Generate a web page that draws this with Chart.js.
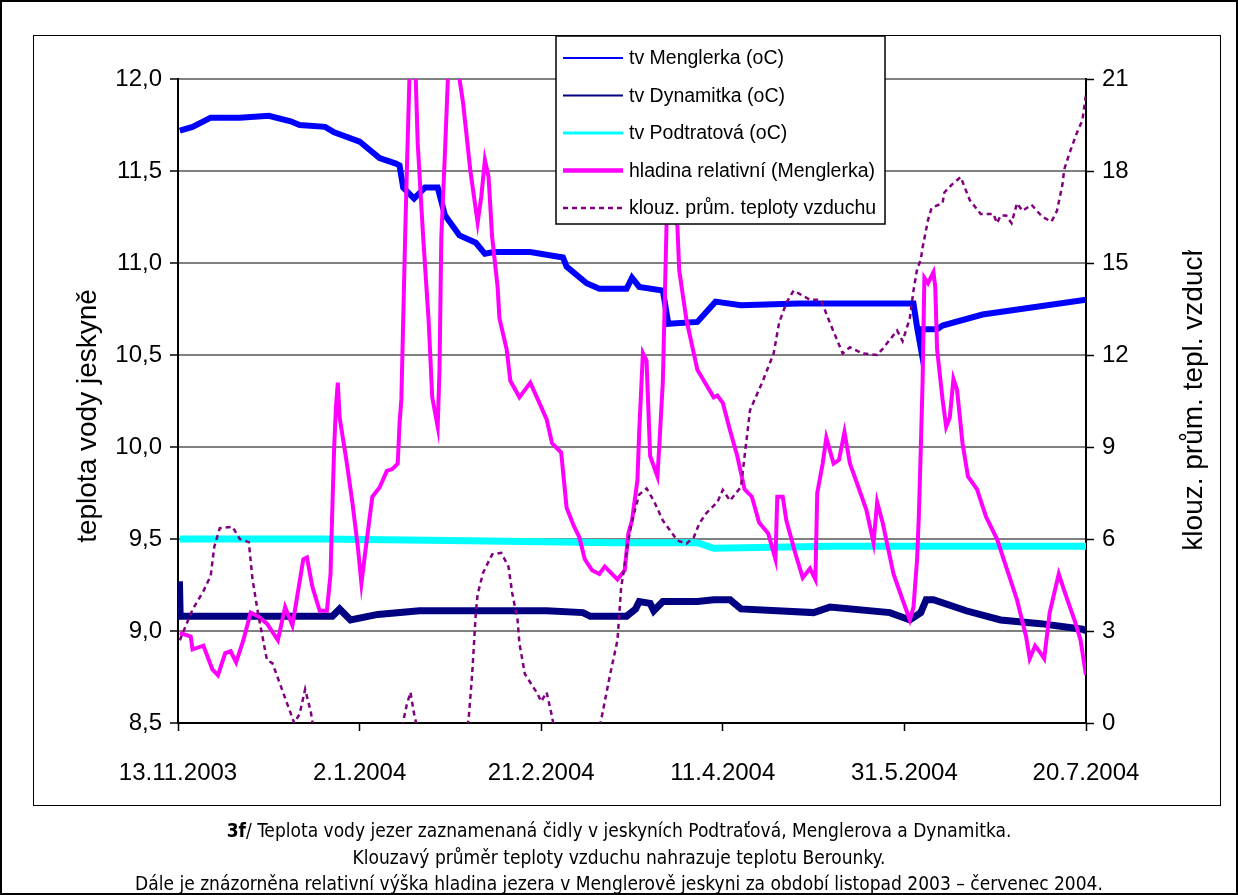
<!DOCTYPE html>
<html>
<head>
<meta charset="utf-8">
<script src="https://cdn.jsdelivr.net/npm/chart.js@4.4.1/dist/chart.umd.min.js"></script>
<style>
  html, body { margin: 0; padding: 0; background: #fff; }
  #wrap { position: relative; width: 1238px; height: 895px; overflow: hidden; }
  #outer { position: absolute; left: 0; top: 0; width: 1234px; height: 891px; border: 2px solid #000; }
  #frame { position: absolute; left: 33px; top: 35px; width: 1186px; height: 769px; border: 1.5px solid #000; }
  #myChart { position: absolute; left: 0; top: 0; }
  #caption {
    position: absolute; left: 0; top: 817px; width: 1238px; text-align: center;
    font-family: "DejaVu Sans Condensed", "DejaVu Sans", sans-serif; font-size: 19px; line-height: 26.5px; color: #000;
  }
</style>
</head>
<body>
<div id="wrap">
  <div id="outer"></div>
  <div id="frame"></div>
  <canvas id="myChart" width="1238" height="895"></canvas>
  <div id="caption">
    <b>3f</b>/ Teplota vody jezer zaznamenaná čidly v jeskyních Podtraťová, Menglerova a Dynamitka.<br>
    Klouzavý průměr teploty vzduchu nahrazuje teplotu Berounky.<br>
    Dále je znázorněna relativní výška hladina jezera v Menglerově jeskyni za období listopad 2003 – červenec 2004.
  </div>
</div>
<script>
// x = days since 13.11.2003
const xTickLabels = ["13.11.2003", "2.1.2004", "21.2.2004", "11.4.2004", "31.5.2004", "20.7.2004"];
const leftTitle = "teplota vody jeskyně";
const rightTitle = "klouz. prům. tepl. vzduchu";
const seriesLabels = ["tv Menglerka (oC)", "tv Dynamitka (oC)", "tv Podtratová (oC)", "hladina relativní (Menglerka)", "klouz. prům. teploty vzduchu"];

const menglerkaDays = [0.5, 4, 9, 17, 25, 31, 33.5, 40.5, 43, 50, 55.5, 60, 61, 62, 64, 65, 68, 71.5, 73.5, 77.5, 82, 84.5, 87, 97, 106, 107, 112.5, 116, 123.5, 125, 127, 133.5, 135, 143, 148, 155, 171, 188, 202.5, 203.5, 204.5, 205, 209, 210.5, 221.5, 235.5, 250];
const menglerkaTemp = [11.72, 11.74, 11.79, 11.79, 11.80, 11.77, 11.75, 11.74, 11.71, 11.66, 11.57, 11.54, 11.53, 11.41, 11.37, 11.35, 11.41, 11.41, 11.26, 11.15, 11.11, 11.05, 11.06, 11.06, 11.03, 10.98, 10.89, 10.86, 10.86, 10.92, 10.87, 10.85, 10.67, 10.68, 10.79, 10.77, 10.78, 10.78, 10.78, 10.65, 10.54, 10.64, 10.64, 10.66, 10.72, 10.76, 10.80];

const dynamitkaDays = [0.2, 0.4, 0.6, 42.5, 44.5, 47.5, 55, 66.5, 101.5, 111.5, 113.5, 123.5, 126, 127, 130, 131, 133.5, 143, 147.5, 152, 155, 175, 179.5, 196, 201.5, 204.5, 206, 208, 217, 226.5, 237.5, 249, 250];
const dynamitkaTemp = [9.08, 9.27, 9.08, 9.08, 9.12, 9.06, 9.09, 9.11, 9.11, 9.10, 9.08, 9.08, 9.12, 9.16, 9.15, 9.11, 9.16, 9.16, 9.17, 9.17, 9.12, 9.10, 9.13, 9.10, 9.06, 9.10, 9.17, 9.17, 9.11, 9.06, 9.04, 9.01, 9.00];

const podtratovaDays = [0.5, 40, 80, 120, 143, 147.5, 180, 220, 250];
const podtratovaTemp = [9.50, 9.50, 9.49, 9.48, 9.48, 9.45, 9.46, 9.46, 9.46];

const hladinaDays = [0.5, 3.5, 4, 7, 9.5, 11, 13, 14.5, 16, 18, 20, 22, 24.5, 27.5, 29.5, 31.5, 34.5, 35.5, 37, 39, 41, 42, 42.5, 43, 43.5, 44, 44.5, 46.5, 48, 49.5, 50.5, 51.5, 53.5, 55.5, 57.5, 59, 60.5, 61, 61.5, 62.5, 63, 64, 65, 66, 67.5, 69, 70, 71.5, 72, 72.5, 73.5, 74.5, 76, 77.5, 78.5, 80.5, 82, 82.5, 83.5, 84.5, 85.5, 86.5, 88, 88.5, 90.5, 91.5, 94, 97, 99.5, 101.5, 103, 105.5, 107, 109, 110.5, 112, 114, 116, 117.5, 121, 123, 124, 125, 126.5, 127, 128, 129, 130, 132, 132.5, 133.5, 134.5, 136, 137.5, 138, 140, 143, 147.5, 148.5, 150, 152, 154, 156, 158, 160, 162.5, 164.5, 165, 166.5, 167.5, 170, 172, 174, 175.5, 176, 177.5, 178.5, 180.5, 182, 183.5, 185, 187, 189.5, 191.5, 192.5, 194, 197, 199.5, 201.5, 202.5, 203.5, 204, 204.5, 205, 205.5, 206.5, 208, 208.5, 209, 210.5, 211.5, 212.5, 213.5, 214.5, 216, 217.5, 220, 222.5, 225.5, 228, 231, 233.5, 234.5, 236, 237.5, 238.5, 240, 242.5, 244, 247, 248.5, 250];
const hladinaLevel = [8.99, 8.97, 8.90, 8.92, 8.79, 8.76, 8.88, 8.89, 8.83, 8.95, 9.10, 9.08, 9.04, 8.95, 9.13, 9.03, 9.39, 9.40, 9.24, 9.11, 9.11, 9.31, 9.67, 10.00, 10.22, 10.35, 10.16, 9.91, 9.70, 9.46, 9.26, 9.42, 9.73, 9.78, 9.87, 9.88, 9.91, 10.13, 10.26, 11.11, 11.50, 12.20, 12.30, 11.65, 11.14, 10.69, 10.27, 10.11, 10.42, 11.14, 11.60, 12.10, 12.30, 12.00, 11.87, 11.50, 11.29, 11.22, 11.36, 11.56, 11.47, 11.14, 10.87, 10.70, 10.53, 10.36, 10.27, 10.35, 10.24, 10.15, 10.02, 9.97, 9.67, 9.57, 9.51, 9.39, 9.33, 9.31, 9.35, 9.28, 9.33, 9.53, 9.60, 9.82, 10.09, 10.51, 10.47, 9.95, 9.84, 10.00, 10.36, 11.20, 11.60, 11.20, 10.96, 10.69, 10.42, 10.27, 10.28, 10.24, 10.09, 9.95, 9.77, 9.73, 9.59, 9.53, 9.39, 9.73, 9.73, 9.60, 9.42, 9.29, 9.34, 9.28, 9.75, 9.91, 10.05, 9.91, 9.93, 10.08, 9.91, 9.80, 9.66, 9.48, 9.70, 9.59, 9.31, 9.17, 9.06, 9.13, 9.39, 9.64, 9.98, 10.35, 10.92, 10.89, 10.95, 10.87, 10.53, 10.26, 10.11, 10.16, 10.37, 10.31, 10.02, 9.84, 9.77, 9.62, 9.50, 9.35, 9.17, 8.97, 8.85, 8.92, 8.88, 8.85, 9.10, 9.31, 9.22, 9.05, 8.95, 8.76];

const vzduchDays = [0.5, 4, 7, 9, 10, 11.5, 15, 17, 19.5, 20.5, 22, 24.5, 26, 30, 32, 33.5, 35, 36.5, 37.5, 44.5, 55.5, 61, 63, 64, 65, 66.5, 73.5, 79, 80, 81, 82, 82.5, 84, 86.5, 89, 91, 92, 93.5, 94, 95.5, 99, 100, 101.5, 103, 104, 110.5, 115.5, 116.5, 119, 121, 122, 124, 125, 127, 129, 131, 133.5, 137.5, 140, 142, 143.5, 145.5, 148.5, 150, 152, 155, 156.5, 157.5, 161, 164, 165.5, 167.5, 169.5, 171, 174, 177, 179.5, 183, 185, 188.5, 192.5, 194, 198, 199.5, 201.5, 202.5, 203.5, 204.5, 205, 206.5, 207.5, 210.5, 211, 213, 215.5, 218, 221, 224.5, 225.5, 226.5, 228, 229.5, 231, 232.5, 235, 236.5, 238, 240.5, 242, 243.5, 244, 245.5, 247.5, 249, 250];
const vzduchTemp = [2.7, 3.7, 4.3, 4.8, 5.75, 6.35, 6.4, 6.0, 5.9, 4.7, 3.6, 2.05, 1.95, 0.65, 0.0, 0.3, 1.1, 0.4, -0.3, -2.0, -2.5, -0.5, 0.6, 1.0, 0.3, -0.5, -2.0, -0.5, 0.1, 1.6, 3.6, 4.2, 4.9, 5.5, 5.55, 5.1, 4.25, 3.35, 2.6, 1.6, 0.95, 0.7, 1.0, 0.2, -0.5, -2.5, -0.5, 0.1, 1.6, 2.7, 4.4, 5.95, 6.6, 7.45, 7.65, 7.25, 6.6, 5.95, 5.85, 6.05, 6.5, 6.85, 7.2, 7.6, 7.25, 7.7, 9.2, 10.2, 11.15, 12.05, 13.05, 13.7, 14.1, 14.0, 13.8, 13.8, 13.05, 12.05, 12.25, 12.05, 12.0, 12.2, 12.8, 12.45, 13.2, 14.1, 14.8, 15.1, 15.5, 16.4, 16.8, 16.95, 17.3, 17.55, 17.8, 17.05, 16.6, 16.6, 16.3, 16.55, 16.55, 16.3, 16.95, 16.7, 16.9, 16.7, 16.5, 16.35, 16.7, 17.55, 18.05, 18.6, 19.25, 19.65, 20.5];

const pts = (xs, ys) => xs.map((x, i) => ({ x: x, y: ys[i] }));
const fontFamily = "'Liberation Sans', Arial, sans-serif";

const overlay = {
  id: "overlay",
  afterDraw(chart) {
    const ctx = chart.ctx;
    ctx.save();
    ctx.fillStyle = "#000";
    ctx.font = "28px " + fontFamily;
    ctx.textAlign = "center";
    ctx.textBaseline = "middle";
    ctx.save();
    ctx.beginPath();
    ctx.rect(50, 270, 70, 400);
    ctx.clip();
    ctx.translate(88, 416);
    ctx.rotate(-Math.PI / 2);
    ctx.fillText(leftTitle, 0, 0);
    ctx.restore();
    ctx.save();
    ctx.beginPath();
    ctx.rect(1160, 250, 70, 400);
    ctx.clip();
    ctx.translate(1194, 388);
    ctx.rotate(-Math.PI / 2);
    ctx.fillText(rightTitle, 0, 0);
    ctx.restore();

    // legend box
    const lx = 556, ly = 36, lw = 329, lh = 188;
    ctx.fillStyle = "#fff";
    ctx.fillRect(lx, ly, lw, lh);
    ctx.strokeStyle = "#000";
    ctx.lineWidth = 1.5;
    ctx.strokeRect(lx, ly, lw, lh);
    const sampleWidths = [2, 2, 3, 4.5, 2.5];
    ctx.font = "19.5px " + fontFamily;
    ctx.textAlign = "left";
    chart.data.datasets.forEach((ds, i) => {
      const y = 58 + i * 37.5;
      ctx.beginPath();
      ctx.setLineDash(ds.borderDash || []);
      ctx.strokeStyle = ds.borderColor;
      ctx.lineWidth = sampleWidths[i];
      ctx.moveTo(563, y);
      ctx.lineTo(623, y);
      ctx.stroke();
      ctx.setLineDash([]);
      ctx.fillStyle = "#000";
      ctx.fillText(ds.label, 629, y + 1);
    });
    ctx.restore();
  }
};

const ctx = document.getElementById("myChart");
new Chart(ctx, {
  type: "line",
  data: {
    datasets: [
      { label: seriesLabels[0], data: pts(menglerkaDays, menglerkaTemp), borderColor: "#0000FF", borderWidth: 6, yAxisID: "y", order: 4 },
      { label: seriesLabels[1], data: pts(dynamitkaDays, dynamitkaTemp), borderColor: "#000080", borderWidth: 7, yAxisID: "y", order: 3 },
      { label: seriesLabels[2], data: pts(podtratovaDays, podtratovaTemp), borderColor: "#00FFFF", borderWidth: 7, yAxisID: "y", order: 2 },
      { label: seriesLabels[3], data: pts(hladinaDays, hladinaLevel), borderColor: "#FF00FF", borderWidth: 4, yAxisID: "y", order: 1 },
      { label: seriesLabels[4], data: pts(vzduchDays, vzduchTemp), borderColor: "#800080", borderWidth: 2.5, borderDash: [5, 4], yAxisID: "y2", order: 0 }
    ]
  },
  options: {
    responsive: false,
    animation: false,
    devicePixelRatio: 1,
    elements: { point: { radius: 0 }, line: { tension: 0 } },
    layout: { padding: { top: 79, left: 0, right: 0, bottom: 0 } },
    plugins: { legend: { display: false }, tooltip: { enabled: false } },
    scales: {
      x: {
        type: "linear", min: 0, max: 250,
        afterFit: (s) => { s.height = 172; },
        ticks: { stepSize: 50, padding: 28, color: "#000", font: { family: fontFamily, size: 24 },
          callback: (v) => xTickLabels[Math.round(v / 50)] },
        grid: { drawOnChartArea: false, tickLength: 8, tickColor: "#000", tickWidth: 1.5 },
        border: { color: "#000", width: 2 }
      },
      y: {
        position: "left", min: 8.5, max: 12,
        afterFit: (s) => { s.width = 178; },
        ticks: { stepSize: 0.5, padding: 8, color: "#000", font: { family: fontFamily, size: 24 },
          callback: (v) => v.toFixed(1).replace(".", ",") },
        grid: { color: "#808080", lineWidth: 2, tickLength: 8, tickColor: "#000", tickWidth: 1.5 },
        border: { color: "#000", width: 2 }
      },
      y2: {
        position: "right", min: 0, max: 21,
        afterFit: (s) => { s.width = 152; },
        ticks: { stepSize: 3, padding: 8, color: "#000", font: { family: fontFamily, size: 24 } },
        grid: { drawOnChartArea: false, tickLength: 8, tickColor: "#000", tickWidth: 1.5 },
        border: { color: "#000", width: 2 }
      }
    }
  },
  plugins: [overlay]
});
</script>
</body>
</html>
